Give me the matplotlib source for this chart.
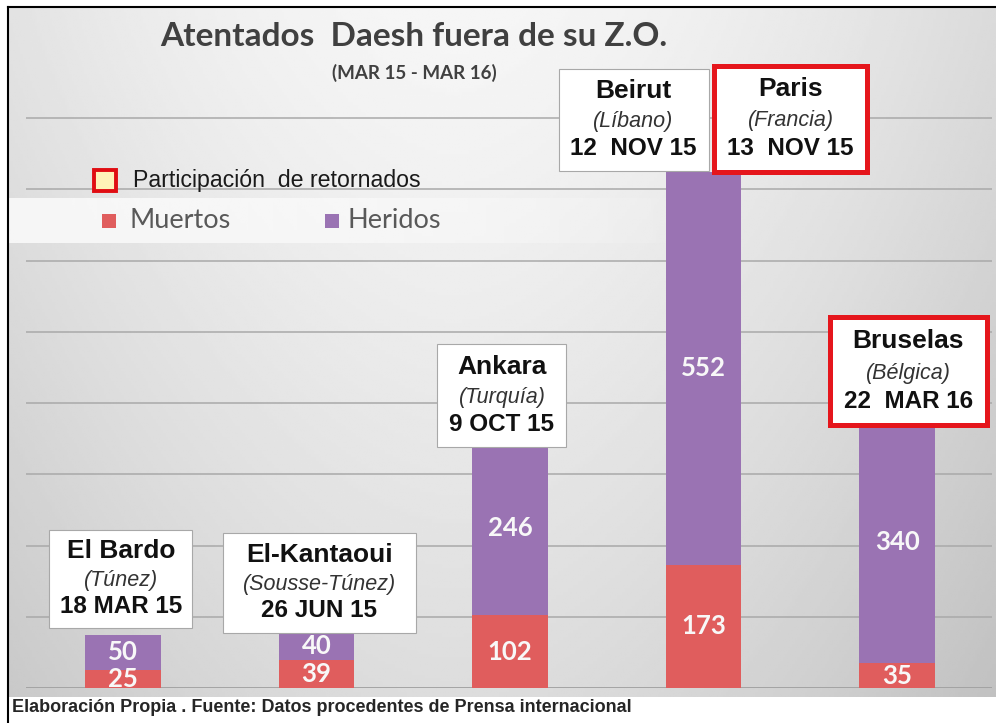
import numpy as np
import matplotlib.pyplot as plt
from matplotlib.patches import Rectangle

# ---- data
lugares = ["El Bardo", "El-Kantaoui", "Ankara", "Beirut / Paris", "Bruselas"]
muertos = [25, 39, 102, 173, 35]
heridos = [50, 40, 246, 552, 340]

box_nombres = ["El Bardo", "El-Kantaoui", "Ankara", "Beirut", "Paris", "Bruselas"]
box_paises = ["(Túnez)", "(Sousse-Túnez)", "(Turquía)", "(Líbano)", "(Francia)", "(Bélgica)"]
box_fechas = ["18 MAR 15", "26 JUN 15", "9 OCT 15", "12  NOV 15", "13  NOV 15", "22  MAR 16"]
box_barra = [0, 1, 2, 3, 3, 4]
box_retornados = [False, False, False, False, True, True]

titulo = "Atentados  Daesh fuera de su Z.O."
subtitulo = "(MAR 15 - MAR 16)"
fuente = "Elaboración Propia . Fuente: Datos procedentes de Prensa internacional"

#-- box geometry in pixels: width, height, x shift from bar centre, gap below bar top
box_w = [143, 193, 129, 150, 153, 157]
box_h = [98, 100, 103, 102, 106, 108]
box_dx = [-2, 3, -8, -70, 87, 11]
box_dy = [-7, 1, 7, -1, 0, 4]

ROJO, MORADO = "#e05d5d", "#9a73b3"
CALIBRI = ["Lato", "DejaVu Sans"]
ARIAL = ["Liberation Sans", "DejaVu Sans"]

W, H = 996, 723
fig = plt.figure(figsize=(W / 100, H / 100), dpi=100)
fig.patch.set_facecolor("white")

#-- background gradient + frame
bg = fig.add_axes([0, 0, 1, 1])
bg.set_xlim(0, W)
bg.set_ylim(H, 0)
bg.axis("off")
X, Y = np.meshgrid(np.linspace(0, 1, 400), np.linspace(0, 1, 200))
val = 0.965 - 0.30 * np.abs(X - 0.45) ** 1.7 - 0.10 * Y ** 1.2
bg.imshow(val, cmap="gray", vmin=0, vmax=1, extent=(9, W, 697, 7), aspect="auto", zorder=0)
band = np.ones((1, 300, 4))
band[0, :, 3] = np.clip(0.75 - np.linspace(0, 1, 300) ** 1.5 * 0.75, 0, 1)
bg.imshow(band, extent=(9, 720, 243, 198), aspect="auto", zorder=1)
bg.plot([8, 8], [7, H], color="black", lw=1.5, zorder=3)
bg.plot([8, W], [7, 7], color="black", lw=1.5, zorder=3)

#-- bars
ax = fig.add_axes([26 / W, 35 / H, 966 / W, 641 / H])
ax.patch.set_alpha(0)
x = np.arange(len(lugares))
ax.bar(x, muertos, width=0.39, color=ROJO, zorder=3)
ax.bar(x, heridos, bottom=muertos, width=0.39, color=MORADO, zorder=3)
ax.set_xlim(-0.5, 4.49)
ax.set_ylim(0, 900)
ax.set_yticks(range(100, 900, 100))
ax.yaxis.grid(True, color="#a9a9a9", lw=1.1)
ax.axhline(0, color="#a0a0a0", lw=1.3, zorder=2)
ax.set_axisbelow(True)
ax.tick_params(left=False, bottom=False, labelleft=False, labelbottom=False)
for s in ax.spines.values():
    s.set_visible(False)

for i in x:
    ax.text(i, muertos[i] / 2, str(muertos[i]), ha="center", va="center", color="#f8f8f8",
            fontweight="bold", family=CALIBRI, fontsize=18.5, zorder=4)
    ax.text(i, muertos[i] + heridos[i] / 2, str(heridos[i]), ha="center", va="center",
            color="#f8f8f8", fontweight="bold", family=CALIBRI, fontsize=18.5, zorder=4)

#-- overlay for boxes, titles and legend (pixel coords, top origin)
top = fig.add_axes([0, 0, 1, 1])
top.set_xlim(0, W)
top.set_ylim(H, 0)
top.axis("off")
top.patch.set_alpha(0)

for k in range(len(box_nombres)):
    b = box_barra[k]
    px, py = ax.transData.transform((b, muertos[b] + heridos[b]))
    cx = px + box_dx[k]
    bottom = (H - py) + box_dy[k]
    y0 = bottom - box_h[k]
    if box_retornados[k]:
        top.add_patch(Rectangle((cx - box_w[k] / 2, y0), box_w[k], box_h[k], facecolor="white",
                                edgecolor="#e5161c", lw=3.6, zorder=5))
    else:
        top.add_patch(Rectangle((cx - box_w[k] / 2, y0), box_w[k], box_h[k], facecolor="white",
                                edgecolor="#a8a8a8", lw=0.8, zorder=5))
    top.text(cx, y0 + box_h[k] * 0.22, box_nombres[k], ha="center", va="center", family=ARIAL,
             fontweight="bold", fontsize=19, color="#111111", zorder=6)
    top.text(cx, y0 + box_h[k] * 0.52, box_paises[k], ha="center", va="center", family=ARIAL,
             style="italic", fontsize=15.5, color="#333333", zorder=6)
    top.text(cx, y0 + box_h[k] * 0.78, box_fechas[k], ha="center", va="center", family=ARIAL,
             fontweight="bold", fontsize=17.5, color="#111111", zorder=6)

top.text(414, 37, titulo, ha="center", va="center", family=CALIBRI, fontweight="bold",
         fontsize=24, color="#404040")
top.text(414, 73, subtitulo, ha="center", va="center", family=CALIBRI, fontweight="bold",
         fontsize=13.5, color="#404040")

#-- legend
top.add_patch(Rectangle((94, 170), 22, 21, facecolor="#fff2b8", edgecolor="#e00d12", lw=2.8))
top.text(133, 181, "Participación  de retornados", va="center", family=ARIAL, fontsize=16.7,
         color="#1a1a1a")
top.add_patch(Rectangle((102, 214), 14, 14, facecolor=ROJO, edgecolor="none"))
top.text(129, 221, "Muertos", va="center", family=CALIBRI, fontsize=19.5, color="#595959")
top.add_patch(Rectangle((325, 214), 14, 14, facecolor=MORADO, edgecolor="none"))
top.text(347, 221, "Heridos", va="center", family=CALIBRI, fontsize=19.5, color="#595959")

top.text(12, 707, fuente, va="center", family=ARIAL, fontweight="bold", fontsize=13,
         color="#262626")

fig.savefig("out.png", dpi=100)
